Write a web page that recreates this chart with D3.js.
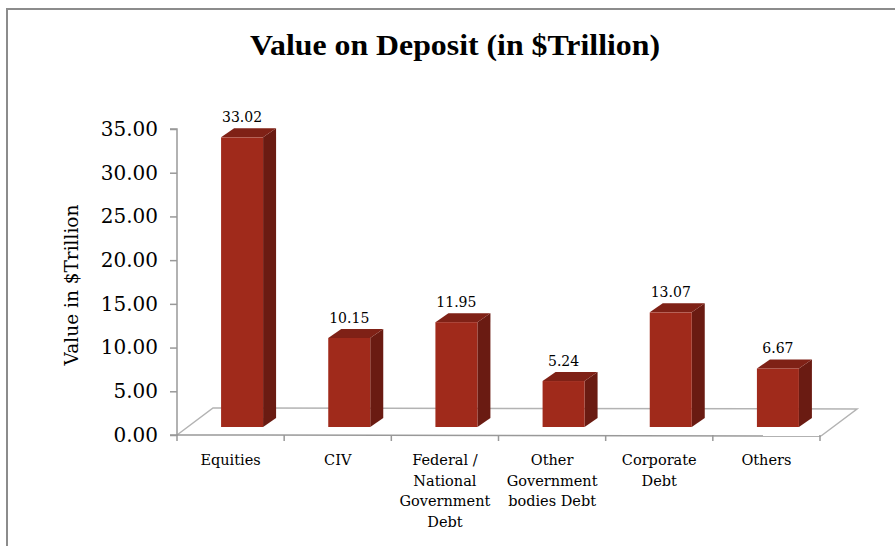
<!DOCTYPE html>
<html><head><meta charset="utf-8">
<script src="https://cdn.jsdelivr.net/npm/d3@7"></script>
<style>body{margin:0;background:#fff}svg{display:block}</style>
</head><body>
<svg id="c" width="895" height="546"></svg>
<script>
const categories = [["Equities"],["CIV"],["Federal /","National","Government","Debt"],["Other","Government","bodies Debt"],["Corporate","Debt"],["Others"]];
const values = [33.02, 10.15, 11.95, 5.24, 13.07, 6.67];
const valueLabels = ["33.02","10.15","11.95","5.24","13.07","6.67"];
const yTicks = [0,5,10,15,20,25,30,35];
const title = "Value on Deposit (in $Trillion)";
const yTitle = "Value in $Trillion";

const svg = d3.select("#c");
const serif = "'DejaVu Serif', serif";

// frame
svg.append("rect").attr("x",7).attr("y",9).attr("width",1000).attr("height",1000)
  .attr("fill","none").attr("stroke","#8c8c8c").attr("stroke-width",2);

// title
svg.append("text").attr("x",455).attr("y",55).attr("text-anchor","middle")
  .attr("font-family","'Liberation Serif', serif").attr("font-weight","bold").attr("font-size",29)
  .attr("textLength",410).attr("lengthAdjust","spacingAndGlyphs")
  .attr("fill","#000").text(title);

const x = d3.scaleBand().domain(d3.range(values.length)).range([177,820]).padding(0);
const y = d3.scaleLinear().domain([0,35]).range([435,129]);
const yBar = d3.scaleLinear().domain([0,35]).range([427,120]);
const depth = {dx:36, dy:-27};
const bd = {dx:13, dy:-9};
const frontOff = 11.5, bw = 42;

// floor
const floorCol = "#b3b3b3";
const x0 = 177, x1 = 821;
svg.append("path").attr("fill","none").attr("stroke",floorCol).attr("stroke-width",1.5)
  .attr("d",`M${x0},${y(0)} L${x0+depth.dx},${y(0)+depth.dy} L${x1+depth.dx},${y(0)+depth.dy+1} L${x1},${y(0)+1}`);

// y axis
const yAxis = d3.axisLeft(y).tickValues(yTicks).tickFormat(d3.format(".2f")).tickSize(7).tickPadding(12);
const gy = svg.append("g").attr("transform","translate(177,0)").call(yAxis);
gy.selectAll("path,line").attr("stroke","#999").attr("stroke-width",1.5);
gy.select(".domain").attr("d",`M-7,${y(35)}H0V${y(0)}H-7`);
gy.selectAll("text").attr("font-family",serif).attr("font-size",20).attr("fill","#000");

// x axis
svg.append("line").attr("x1",x0).attr("x2",x1).attr("y1",y(0)).attr("y2",y(0)+1)
  .attr("stroke","#999").attr("stroke-width",1.5);
const bounds = d3.range(values.length+1).map(i => i < values.length ? x(i) : x.range()[1]);
svg.selectAll(".xt").data(bounds).join("line").attr("class","xt")
  .attr("x1",d=>d).attr("x2",d=>d).attr("y1",y(0)).attr("y2",y(0)+6)
  .attr("stroke","#999").attr("stroke-width",1.5);

// bars
const bars = svg.selectAll(".bar").data(values).join("g").attr("class","bar");
bars.each(function(v,i){
  const g = d3.select(this);
  const cx = x(i) + x.bandwidth()/2 + frontOff;
  const l = cx - bw/2, r = cx + bw/2;
  const t = yBar(v), b = yBar(0);
  g.append("path").attr("fill","#6a1b12")
    .attr("d",`M${r},${t} L${r+bd.dx},${t+bd.dy} L${r+bd.dx},${b+bd.dy} L${r},${b}Z`);
  g.append("path").attr("fill","#7f2116")
    .attr("d",`M${l},${t} L${l+bd.dx},${t+bd.dy} L${r+bd.dx},${t+bd.dy} L${r},${t}Z`);
  g.append("rect").attr("x",l).attr("y",t).attr("width",bw).attr("height",b-t).attr("fill","#a02a1b");
  g.append("text").attr("x",cx).attr("y",t-15).attr("text-anchor","middle")
    .attr("font-family",serif).attr("font-size",14).attr("fill","#000").text(valueLabels[i]);
});

// category labels
svg.selectAll(".cat").data(categories).join("text").attr("class","cat")
  .attr("text-anchor","middle").attr("font-family",serif).attr("font-size",14.5).attr("fill","#000")
  .each(function(lines,i){
    const t = d3.select(this);
    lines.forEach((s,k)=>{
      t.append("tspan").attr("x",x(i)+x.bandwidth()/2).attr("y",465+k*20.5).text(s);
    });
  });

// y title
svg.append("text").attr("transform","translate(78,285) rotate(-90)").attr("text-anchor","middle")
  .attr("font-family",serif).attr("font-size",18.5).attr("fill","#000").text(yTitle);
</script>
</body></html>
